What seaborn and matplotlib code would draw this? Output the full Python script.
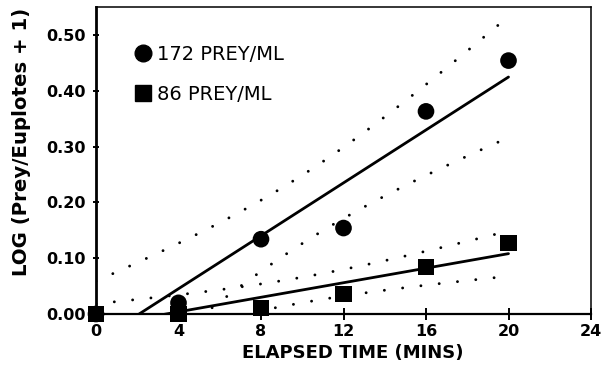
import numpy as np
import pandas as pd
import matplotlib
matplotlib.use("Agg")
import matplotlib.pyplot as plt
from matplotlib.lines import Line2D
import seaborn as sns

# Значения
minutes = [0, 4, 8, 12, 16, 20]
log_172 = [0.000, 0.020, 0.134, 0.154, 0.363, 0.454]
log_86 = [0.000, 0.000, 0.011, 0.036, 0.084, 0.127]
series_names = ["172 PREY/ML", "86 PREY/ML"]
x_ticks = [0, 4, 8, 12, 16, 20, 24]
y_ticks = [0.0, 0.1, 0.2, 0.3, 0.4, 0.5]

T_95_DF4 = 2.776  # t-квантиль 0.975 для n-2 = 4


def conf_band(x, y):
    # линейная регрессия + 95% доверительный интервал среднего
    x = np.asarray(x, float)
    y = np.asarray(y, float)
    slope, icpt = np.polyfit(x, y, 1)
    s = np.sqrt(np.sum((y - (slope * x + icpt)) ** 2) / (len(x) - 2))
    grid = np.linspace(x.min(), x.max(), 200)
    fit = slope * grid + icpt
    half = T_95_DF4 * s * np.sqrt(1 / len(x) + (grid - x.mean()) ** 2 / np.sum((x - x.mean()) ** 2))
    return grid, fit - half, fit + half


def main():
    sns.set_style("ticks", {"axes.edgecolor": "black", "xtick.color": "black",
                            "ytick.color": "black", "text.color": "black",
                            "axes.labelcolor": "black"})
    plt.rcParams["font.family"] = ["DejaVu Sans"]

    df = pd.DataFrame({
        "minutes": minutes * 2,
        "log": log_172 + log_86,
        "series": [series_names[0]] * len(minutes) + [series_names[1]] * len(minutes),
    })

    fig = plt.figure(figsize=(6.01, 3.76), dpi=100)
    ax = fig.add_axes([96 / 601, 62 / 376, 495 / 601, 307 / 376])

    dotted = dict(color="black", lw=2.1, linestyle=(0, (0.01, 6.3)),
                  dash_capstyle="round", legend=False)
    for yy in (log_172, log_86):
        sns.regplot(x=minutes, y=yy, scatter=False, ci=None, color="black",
                    line_kws=dict(lw=2.0), ax=ax)
        grid, lo, hi = conf_band(minutes, yy)
        sns.lineplot(x=grid, y=lo, ax=ax, **dotted)
        sns.lineplot(x=grid, y=hi, ax=ax, **dotted)

    sns.scatterplot(data=df, x="minutes", y="log", style="series",
                    markers={series_names[0]: "o", series_names[1]: "s"},
                    color="black", s=144, linewidth=0, legend=False,
                    clip_on=False, zorder=5, ax=ax)

    ax.set_xlim(0, 24)
    ax.set_ylim(0, 0.55)
    ax.set_xticks(x_ticks)
    ax.set_yticks(y_ticks)
    ax.yaxis.set_major_formatter("{x:.2f}")
    ax.tick_params(axis="x", direction="inout", length=8, width=1.4, pad=3.5, labelsize=11.5)
    ax.tick_params(axis="y", direction="inout", length=4.5, width=1.4, pad=5, labelsize=11.5)
    for lbl in ax.get_xticklabels() + ax.get_yticklabels():
        lbl.set_fontweight("bold")

    ax.spines["left"].set_linewidth(2.0)
    ax.spines["bottom"].set_linewidth(1.6)
    ax.spines["top"].set_linewidth(1.1)
    ax.spines["right"].set_linewidth(1.1)

    ax.set_xlabel("ELAPSED TIME (MINS)", fontsize=13, fontweight="bold")
    ax.xaxis.set_label_coords(0.519, -0.098)
    ax.set_ylabel("")
    fig.text(0.035, 0.622, "LOG (Prey/Euplotes + 1)", rotation=90, ha="center",
             va="center", fontsize=14.2, fontweight="bold")

    handles = [Line2D([], [], marker="o", ls="", color="black", markersize=12),
               Line2D([], [], marker="s", ls="", color="black", markersize=12)]
    ax.legend(handles, series_names, loc="upper left", bbox_to_anchor=(0.0754, 0.877),
              frameon=False, fontsize=14, borderpad=0, handlelength=1.0,
              handletextpad=0.2, labelspacing=1.1, borderaxespad=0)

    fig.savefig("out.png", dpi=100)
    plt.close("all")


if __name__ == "__main__":
    main()
